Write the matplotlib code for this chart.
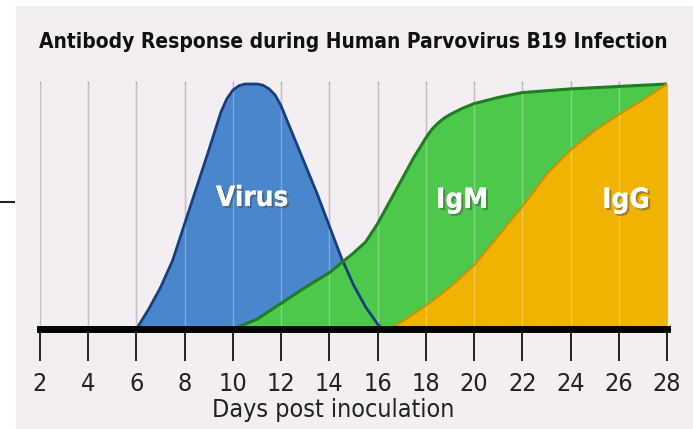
import matplotlib
matplotlib.use("Agg")
import matplotlib.pyplot as plt
import matplotlib.patheffects as pe
from matplotlib.patches import Rectangle
from matplotlib.lines import Line2D

# values (relative level, 0..1)
virus_days = [6.0, 6.5, 7.0, 7.5, 8.0, 8.5, 9.0, 9.5, 9.75, 10.0, 10.25, 10.5, 10.75, 11.0,
              11.25, 11.5, 11.75, 12.0, 12.5, 13.0, 13.5, 14.0, 14.5, 15.0, 15.5, 16.0, 16.2]
virus_vals = [0.0, 0.08, 0.17, 0.28, 0.43, 0.58, 0.73, 0.885, 0.94, 0.975, 0.993, 1.0, 1.0, 1.0,
              0.995, 0.98, 0.955, 0.91, 0.79, 0.67, 0.55, 0.42, 0.29, 0.18, 0.09, 0.02, 0.0]

igm_days = [10.0, 11.0, 12.0, 13.0, 14.0, 15.0, 15.5, 16.0, 16.5, 17.0, 17.5,
            18.0, 18.25, 18.5, 18.75, 19.0, 19.5, 20.0, 21.0, 22.0, 24.0, 26.0, 28.0]
igm_vals = [0.0, 0.04, 0.105, 0.17, 0.23, 0.31, 0.355, 0.43, 0.52, 0.61, 0.70,
            0.78, 0.815, 0.84, 0.86, 0.875, 0.9, 0.92, 0.945, 0.965, 0.98, 0.99, 1.0]

igg_days = [16.5, 17.0, 18.0, 19.0, 20.0, 21.0, 22.0, 23.0, 24.0, 25.0, 26.0, 27.0, 28.0]
igg_vals = [0.0, 0.03, 0.095, 0.17, 0.26, 0.38, 0.50, 0.63, 0.73, 0.81, 0.875, 0.935, 1.0]

ticks = list(range(2, 29, 2))
title = "Antibody Response during Human Parvovirus B19 Infection"
xlabel = "Days post inoculation"

cond = dict(family='DejaVu Sans', stretch='condensed')

W, H = 693, 429
fig = plt.figure(figsize=(W / 100, H / 100), dpi=100)
fig.patch.set_facecolor('white')

# light panel behind the chart
fig.patches.append(Rectangle((16 / W, 0), 1, 1 - 6 / H, transform=fig.transFigure,
                             facecolor='#f3eef1', edgecolor='none', zorder=-1))
fig.lines.append(Line2D([0, 14 / W], [1 - 202 / H, 1 - 202 / H], transform=fig.transFigure,
                        color='#222222', lw=1.5))

x0, x1 = 40, 667
yb, yt = 329, 60
ax = fig.add_axes([x0 / W, 1 - yb / H, (x1 - x0) / W, (yb - yt) / H])
ax.set_zorder(1)
ax.set_facecolor('none')
ax.set_xlim(2, 28)
ax.set_ylim(0, (yb - yt) / 245)

# grid lines (grey under the fills, faint white on top)
for d in ticks[:-1]:
    ax.plot([d, d], [0, 1.01], color='#a9a6a8', lw=1.0, zorder=1)

ax.fill_between(virus_days, virus_vals, color='#4a86cb', lw=0, zorder=2)
ax.fill_between(igm_days, igm_vals, color='#4cc84a', lw=0, zorder=3)
ax.fill_between(igg_days, igg_vals, color='#f0b302', lw=0, zorder=4)

for d in ticks[:-1]:
    ax.plot([d, d], [0, 1.0], color='white', lw=1.0, alpha=0.3, zorder=5)

ax.plot(virus_days, virus_vals, color='#173f80', lw=2.0, zorder=6)
ax.plot(igm_days, igm_vals, color='#1f7d22', lw=2.2, zorder=6)
ax.plot(igg_days, igg_vals, color='#d98a00', lw=1.4, zorder=6)

shadow = [pe.withSimplePatchShadow(offset=(1.5, -1.5), shadow_rgbFace='#444444', alpha=0.45),
          pe.Normal()]
for lab, xd, yd in [("Virus", 10.8, 0.535), ("IgM", 19.5, 0.527), ("IgG", 26.3, 0.527)]:
    ax.text(xd, yd, lab, color='white', fontsize=20, fontweight='bold', **cond,
            ha='center', va='center', zorder=7, path_effects=shadow)

for s in ['top', 'right', 'left']:
    ax.spines[s].set_visible(False)
ax.spines['bottom'].set_linewidth(5)
ax.spines['bottom'].set_color('black')
ax.spines['bottom'].set_zorder(8)
ax.set_yticks([])
ax.set_xticks(ticks)
ax.tick_params(axis='x', length=23, width=1.3, color='#111111', pad=8,
               labelsize=18, labelcolor='#222222')
for t in ax.get_xticklabels():
    t.set_family('DejaVu Sans')
    t.set_stretch('condensed')

ax.set_xlabel(xlabel, fontsize=18, color='#222222', va='center', **cond)
ax.xaxis.set_label_coords((333 - x0) / (x1 - x0), -(410 - yb) / (yb - yt))

fig.text((x0 + x1) / 2 / W, 1 - 42 / H, title, fontsize=15, fontweight='bold',
         **cond, color='#111111', ha='center', va='center')

plt.savefig('out.png', dpi=100)
plt.close('all')
